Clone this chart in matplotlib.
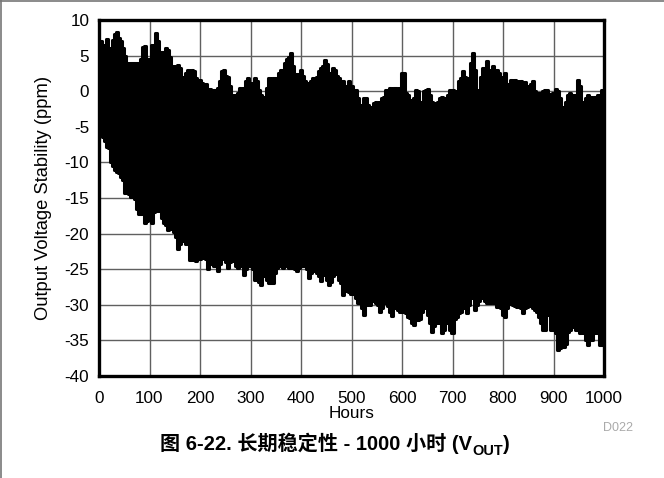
import numpy as np
import matplotlib
matplotlib.use("Agg")
import matplotlib.pyplot as plt

plt.rcParams['font.family'] = ['Liberation Sans', 'Noto Sans CJK SC', 'DejaVu Sans']

# ---- data: envelope of the measured noise band, read every 4 hours ----
hours = np.arange(0, 1001, 4)

upper_ppm = [
    6.5, 7.0, 5.8, 6.5, 7.3, 6.0, 5.8, 7.2, 8.0, 8.3,        # 0-36
    7.5, 7.0, 6.0, 5.0, 4.0, 3.8, 4.0, 3.9, 4.0, 3.9,        # 40-76
    4.0, 4.5, 6.2, 6.3, 4.0, 4.5, 6.5, 5.0, 8.2, 7.0,        # 80-116
    4.5, 5.5, 5.3, 6.0, 5.8, 4.8, 3.5, 3.0, 3.5, 3.7,        # 120-156
    3.2, 2.0, 1.5, 2.5, 3.0, 2.3, 3.0, 2.8, 1.8, 1.0,        # 160-196
    1.6, 1.2, 0.5, 1.0, 0.2, 0.3, 0.0, 0.2, -0.5, 0.5,       # 200-236
    1.5, 2.8, 3.0, 2.2, 2.0, 0.8, -0.5, -1.0, -0.5, -0.2,    # 240-276
    0.5, -0.5, 0.5, 1.5, 1.8, 1.2, 0.5, 1.8, 1.5, 0.2,       # 280-316
    -0.5, -0.8, -1.0, 0.5, 1.8, 1.6, 1.8, 1.8, 1.0, 2.5,     # 320-356
    3.0, 2.0, 4.0, 4.5, 4.8, 5.3, 3.5, 2.0, 2.4, 1.8,        # 360-396
    3.0, 2.2, 1.5, 1.2, 1.0, 1.5, 1.8, 1.8, 2.0, 2.8,        # 400-436
    3.3, 3.5, 4.4, 3.8, 2.5, 2.6, 3.3, 3.0, 2.2, 1.8,        # 440-476
    1.0, 1.5, 0.8, 0.8, 1.4, 0.7, 0.0, 0.2, -1.0, -2.0,      # 480-516
    -2.2, -1.0, -1.0, -2.0, -2.5, -2.2, -1.7, -1.5, -2.5, -1.5,  # 520-556
    -1.0, -0.8, 0.2, 0.0, 0.5, 0.2, 0.5, 0.5, -0.5, 0.5,     # 560-596
    2.6, 2.5, -0.3, -0.5, -1.3, -1.7, -1.0, 0.2, 0.0, -2.0,  # 600-636
    -1.5, 0.0, 0.2, 0.3, -0.5, -1.5, -1.7, -1.7, -1.5, -1.0, # 640-676
    -0.8, -1.5, -1.0, -0.5, 0.2, 0.2, 0.0, -0.8, 1.5, 1.8,   # 680-716
    2.8, 2.0, 1.5, 1.8, 4.0, 5.3, 3.0, 0.0, 0.2, 2.0,        # 720-756
    3.3, 3.0, 4.2, 3.0, 2.0, 3.5, 2.5, 3.0, 2.5, 1.0,        # 760-796
    2.0, 2.6, 1.0, 0.5, 1.6, 1.5, 1.6, 1.4, 1.2, 1.4,        # 800-836
    1.0, 1.3, 0.8, 0.5, 1.0, 1.4, 0.0, -0.2, -0.5, -0.3,     # 840-876
    0.0, 0.2, 0.2, -0.5, -0.4, -0.2, 0.3, 0.0, -1.0, -2.2,   # 880-916
    -2.9, -1.5, -0.5, -0.3, -0.5, -1.5, -0.5, 1.6, 0.8, -1.5,  # 920-956
    -1.8, -1.0, -0.5, -0.8, -1.5, -0.8, -1.5, -0.5, -0.6, 0.2,  # 960-996
    -0.5,                                                     # 1000
]

lower_ppm = [
    -5.5, -6.0, -6.4, -7.0, -7.8, -8.0, -10.0, -10.5, -11.1, -11.3,
    -11.5, -12.0, -12.5, -14.3, -14.0, -14.5, -14.8, -14.5, -15.2, -16.5,
    -17.2, -17.3, -16.5, -18.5, -18.3, -17.0, -18.5, -17.0, -16.5, -16.8,
    -16.3, -17.8, -18.5, -18.8, -19.5, -19.0, -19.3, -19.8, -20.5, -22.1,
    -21.5, -20.8, -21.0, -21.5, -21.3, -23.7, -23.5, -23.7, -23.9, -23.2,
    -23.5, -23.4, -23.3, -23.6, -25.0, -24.0, -24.2, -24.5, -24.0, -25.2,
    -24.3, -23.4, -23.5, -24.0, -24.8, -24.0, -23.6, -23.8, -24.5, -24.8,
    -24.0, -24.5, -25.8, -25.0, -24.4, -24.6, -25.0, -26.5, -26.0, -26.8,
    -27.2, -26.0, -25.8, -26.5, -27.0, -27.0, -26.9, -25.5, -24.8, -24.6,
    -24.5, -24.8, -24.4, -24.6, -24.8, -24.6, -24.8, -25.0, -25.2, -24.8,
    -24.6, -24.5, -24.6, -25.0, -26.3, -25.5, -25.2, -25.1, -25.5, -26.0,
    -26.6, -25.8, -25.5, -26.5, -27.2, -26.8, -26.0, -25.7, -25.5, -26.5,
    -27.0, -28.6, -28.0, -27.5, -28.2, -28.5, -28.0, -29.0, -29.7, -29.8,
    -30.5, -31.4, -30.0, -29.8, -30.0, -29.5, -29.5, -29.8, -30.0, -31.0,
    -30.5, -29.6, -29.8, -30.2, -31.0, -31.6, -30.5, -30.5, -30.8, -31.0,
    -31.0, -30.8, -31.2, -31.7, -31.8, -32.5, -32.8, -32.0, -32.1, -32.0,
    -31.0, -30.5, -30.3, -31.5, -32.5, -33.8, -33.0, -32.5, -32.4, -32.5,
    -34.0, -33.5, -32.5, -31.7, -33.5, -34.0, -32.0, -31.7, -31.2, -31.0,
    -30.0, -30.5, -31.2, -30.0, -29.0, -27.7, -30.7, -30.0, -29.5, -29.0,
    -28.9, -29.5, -29.8, -29.8, -29.8, -29.5, -29.8, -30.3, -30.0, -30.5,
    -31.5, -31.7, -30.5, -29.8, -29.9, -30.0, -30.2, -30.3, -30.0, -30.5,
    -31.2, -30.5, -30.3, -30.2, -30.0, -30.5, -30.8, -31.0, -31.7, -32.5,
    -33.5, -33.5, -31.2, -31.5, -33.5, -33.5, -34.0, -36.3, -36.0, -35.9,
    -35.9, -35.5, -33.8, -33.5, -33.1, -33.0, -33.5, -33.5, -34.0, -33.5,
    -34.0, -35.0, -35.6, -35.0, -34.9, -34.0, -33.4, -34.0, -35.6, -35.7,
    -35.6,
]

x_ticks = [0, 100, 200, 300, 400, 500, 600, 700, 800, 900, 1000]
y_ticks = [10, 5, 0, -5, -10, -15, -20, -25, -30, -35, -40]

title_main = '图 6-22. 长期稳定性 - 1000 小时 (V'
title_sub = 'OUT'
title_end = ')'

fig = plt.figure(figsize=(6.64, 4.78), dpi=100)
ax = fig.add_axes([99 / 664, 1 - 376 / 478, 505 / 664, 356 / 478])

ax.fill_between(hours, lower_ppm, upper_ppm, step='mid', color='black', lw=0, zorder=3)
ax.step(hours, upper_ppm, where='mid', color='black', lw=2.2, zorder=3, solid_joinstyle='round')
ax.step(hours, lower_ppm, where='mid', color='black', lw=2.2, zorder=3, solid_joinstyle='round')

ax.set_xlim(0, 1000)
ax.set_ylim(-40, 10)
ax.set_xticks(x_ticks)
ax.set_yticks(y_ticks)
ax.set_xticklabels([str(v) for v in x_ticks])
ax.set_yticklabels([str(v) for v in y_ticks])
ax.tick_params(length=0, labelsize=12.3)
ax.tick_params(axis='x', pad=11)
ax.tick_params(axis='y', pad=7)
ax.grid(True, color='#606060', lw=1.0, zorder=1)
for s in ax.spines.values():
    s.set_linewidth(2.4)
    s.set_zorder(5)

ax.set_xlabel('Hours', fontsize=12.3, labelpad=0)
ax.set_ylabel('Output Voltage Stability (ppm)', fontsize=13.2, labelpad=9)

fig.text(618 / 664, 1 - 428 / 478, 'D022', fontsize=9, color='#aaaaaa', ha='center', va='center')

# title built from pieces so that OUT is a subscript
renderer = fig.canvas.get_renderer()
fs = 14.5
ty = 1 - 450 / 478
t1 = fig.text(0, ty, title_main, fontsize=fs, fontweight='bold', ha='left', va='baseline')
t2 = fig.text(0, ty, title_sub, fontsize=fs * 0.72, fontweight='bold', ha='left', va='baseline')
t3 = fig.text(0, ty, title_end, fontsize=fs, fontweight='bold', ha='left', va='baseline')
w1 = t1.get_window_extent(renderer).width
w2 = t2.get_window_extent(renderer).width
w3 = t3.get_window_extent(renderer).width
W = fig.bbox.width
x0 = 335 - (w1 + w2 + w3) / 2
t1.set_x(x0 / W)
t2.set_x((x0 + w1) / W)
t2.set_y(ty - 5 / 478)
t3.set_x((x0 + w1 + w2) / W)

# outer frame (top and left edges)
fig.add_artist(plt.Line2D([0, 1], [1 - 1 / 478, 1 - 1 / 478], transform=fig.transFigure,
                          color='#777777', lw=1.2))
fig.add_artist(plt.Line2D([1 / 664, 1 / 664], [0, 1], transform=fig.transFigure,
                          color='#777777', lw=1.2))

fig.savefig('out.png', dpi=100)
